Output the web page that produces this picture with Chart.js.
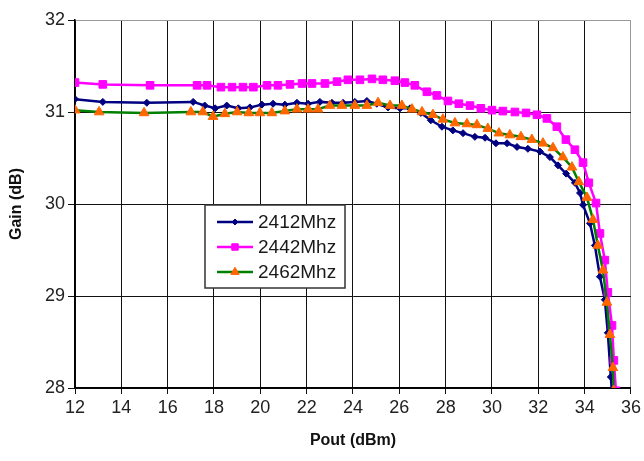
<!DOCTYPE html>
<html><head><meta charset="utf-8">
<script src="https://cdn.jsdelivr.net/npm/chart.js@4/dist/chart.umd.min.js"></script>
<style>html,body{margin:0;padding:0;background:#fff}#wrap{width:644px;height:461px}</style>
</head><body><div id="wrap"><canvas id="c" width="644" height="461"></canvas></div>
<script>
const seriesNames = ['2412Mhz', '2442Mhz', '2462Mhz'];
const xTickValues = [12, 14, 16, 18, 20, 22, 24, 26, 28, 30, 32, 34, 36];
const yTickValues = [28, 29, 30, 31, 32];

const pout2412 = [12.0, 13.2, 15.1, 17.1, 17.6, 18.05, 18.55, 19.05, 19.55, 20.07, 20.55, 21.06, 21.58, 22.06, 22.57, 23.09, 23.57, 24.08, 24.6, 25.03, 25.51, 26.03, 26.46, 26.93, 27.36, 27.84, 28.31, 28.75, 29.26, 29.7, 30.17, 30.65, 31.08, 31.55, 32.07, 32.5, 32.85, 33.2, 33.58, 33.8, 33.93, 34.23, 34.44, 34.66, 34.87, 35.0, 35.13, 35.18];
const gain2412 = [31.14, 31.11, 31.10, 31.11, 31.07, 31.04, 31.07, 31.04, 31.05, 31.08, 31.09, 31.08, 31.10, 31.09, 31.11, 31.10, 31.10, 31.11, 31.12, 31.09, 31.05, 31.04, 31.04, 30.99, 30.91, 30.84, 30.80, 30.77, 30.73, 30.72, 30.66, 30.66, 30.62, 30.60, 30.57, 30.51, 30.42, 30.33, 30.23, 30.12, 29.99, 29.79, 29.55, 29.21, 28.96, 28.60, 28.12, 27.95];

const pout2442 = [12.0, 13.2, 15.24, 17.27, 17.7, 18.3, 18.78, 19.25, 19.7, 20.29, 20.76, 21.28, 21.8, 22.23, 22.79, 23.31, 23.78, 24.3, 24.82, 25.29, 25.81, 26.24, 26.67, 27.19, 27.62, 28.1, 28.57, 29.05, 29.52, 30.0, 30.47, 30.99, 31.47, 31.94, 32.37, 32.8, 33.19, 33.58, 33.93, 34.18, 34.49, 34.66, 34.87, 35.0, 35.18, 35.26, 35.35];
const gain2442 = [31.32, 31.30, 31.29, 31.29, 31.29, 31.27, 31.27, 31.27, 31.27, 31.29, 31.29, 31.30, 31.31, 31.31, 31.31, 31.33, 31.35, 31.35, 31.36, 31.35, 31.34, 31.32, 31.29, 31.22, 31.18, 31.12, 31.09, 31.07, 31.04, 31.02, 31.01, 31.00, 30.99, 30.97, 30.93, 30.84, 30.70, 30.59, 30.45, 30.23, 30.01, 29.68, 29.39, 29.04, 28.68, 28.30, 27.97];

const pout2462 = [12.0, 13.04, 14.98, 17.0, 17.52, 17.96, 18.47, 19.0, 19.5, 19.98, 20.5, 21.06, 21.58, 22.06, 22.49, 23.0, 23.52, 24.08, 24.6, 25.08, 25.6, 26.11, 26.55, 26.98, 27.45, 27.88, 28.4, 28.92, 29.35, 29.82, 30.3, 30.77, 31.25, 31.72, 32.2, 32.63, 33.06, 33.45, 33.75, 34.1, 34.36, 34.57, 34.79, 34.96, 35.09, 35.22, 35.25];
const gain2462 = [31.02, 31.00, 30.99, 31.00, 31.00, 30.95, 30.98, 31.00, 30.99, 30.99, 30.99, 31.01, 31.03, 31.03, 31.03, 31.07, 31.07, 31.07, 31.07, 31.10, 31.07, 31.07, 31.03, 31.00, 30.97, 30.92, 30.88, 30.87, 30.86, 30.82, 30.77, 30.75, 30.73, 30.70, 30.66, 30.61, 30.51, 30.40, 30.24, 30.07, 29.83, 29.55, 29.28, 28.93, 28.58, 28.22, 27.97];

const toPoints = (xs, ys) => xs.map((x, i) => ({x: x, y: ys[i]}));

const FONT = "'Liberation Sans', Arial, sans-serif";

const styles = [
  {line: '#000080', fill: '#000080', shape: 'rectRot', r: 3.5, order: 2},
  {line: '#FF00FF', fill: '#FF00FF', shape: 'rect', r: 5.4, order: 1},
  {line: '#008000', fill: '#FF6600', shape: 'triangle', r: 5.6, order: 0}
];
const seriesData = [toPoints(pout2412, gain2412), toPoints(pout2442, gain2442), toPoints(pout2462, gain2462)];

const datasets = seriesNames.map((name, i) => ({
  label: name,
  data: seriesData[i],
  showLine: true,
  borderColor: styles[i].line,
  borderWidth: 2.5,
  backgroundColor: styles[i].fill,
  pointBackgroundColor: styles[i].fill,
  pointBorderColor: styles[i].fill,
  pointBorderWidth: 1,
  pointStyle: styles[i].shape,
  pointRadius: styles[i].r,
  tension: 0,
  order: styles[i].order
}));

const boxLegend = {
  id: 'boxLegend',
  afterDatasetsDraw(chart) {
    const ctx = chart.ctx;
    const bx = 205, by = 205, bw = 140, bh = 83;
    ctx.save();
    ctx.fillStyle = '#fff';
    ctx.fillRect(bx, by, bw, bh);
    ctx.strokeStyle = '#333';
    ctx.lineWidth = 1.5;
    ctx.strokeRect(bx, by, bw, bh);
    seriesNames.forEach((name, i) => {
      const y = by + 17 + i * 25;
      ctx.strokeStyle = styles[i].line;
      ctx.lineWidth = 2.5;
      ctx.beginPath();
      ctx.moveTo(bx + 12, y);
      ctx.lineTo(bx + 48, y);
      ctx.stroke();
      ctx.fillStyle = styles[i].fill;
      ctx.strokeStyle = styles[i].fill;
      ctx.lineWidth = 1;
      Chart.helpers.drawPoint(ctx, {pointStyle: styles[i].shape, radius: styles[i].r * 0.85, borderWidth: 1}, bx + 30, y);
      ctx.fillStyle = '#1a1a1a';
      ctx.font = '19px ' + FONT;
      ctx.textBaseline = 'middle';
      ctx.textAlign = 'left';
      ctx.fillText(name, bx + 53, y + 1);
    });
    ctx.restore();
  }
};

new Chart(document.getElementById('c'), {
  type: 'scatter',
  data: {datasets: datasets},
  options: {
    responsive: false,
    animation: false,
    devicePixelRatio: 1,
    layout: {padding: {top: 20, right: 11, left: 0, bottom: 0}},
    plugins: {legend: {display: false}, tooltip: {enabled: false}},
    scales: {
      x: {
        type: 'linear',
        min: 12, max: 36,
        afterBuildTicks: (s) => { s.ticks = xTickValues.map(v => ({value: v})); },
        afterFit: (s) => { s.height = 73; },
        ticks: {color: '#222', font: {family: FONT, size: 18}, padding: 3, maxRotation: 0, autoSkip: false},
        grid: {color: (c) => c.tick && c.tick.value === 36 ? '#999' : '#111', lineWidth: 1, tickLength: 6, tickColor: '#111'},
        border: {color: '#000', width: 1.5},
        title: {display: true, text: 'Pout (dBm)', color: '#111', font: {family: FONT, size: 16, weight: 'bold'}, padding: {top: 4, bottom: 11}}
      },
      y: {
        type: 'linear',
        min: 28, max: 32,
        afterBuildTicks: (s) => { s.ticks = yTickValues.map(v => ({value: v})); },
        afterFit: (s) => { s.width = 75; },
        ticks: {color: '#222', font: {family: FONT, size: 18}, padding: 3},
        grid: {color: (c) => c.tick && c.tick.value === 32 ? '#999' : '#111', lineWidth: 1, tickLength: 7, tickColor: '#111'},
        border: {color: '#000', width: 1.5},
        title: {display: true, text: 'Gain (dB)', color: '#111', font: {family: FONT, size: 16, weight: 'bold'}, padding: {top: 7, bottom: 4}}
      }
    }
  },
  plugins: [boxLegend]
});
</script>
</body></html>
